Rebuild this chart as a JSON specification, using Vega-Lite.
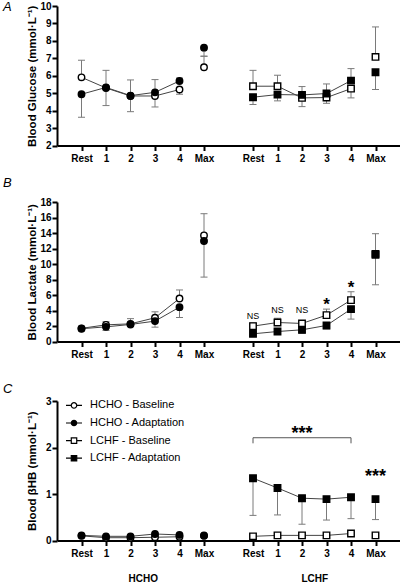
{
  "$schema": "https://vega.github.io/schema/vega-lite/v6.json",
  "padding": {"left": 3, "top": 1, "right": 0, "bottom": 0},
  "config": {
    "font": "Liberation Sans",
    "view": {"stroke": null},
    "axis": {"domainColor": "black", "domainWidth": 2, "tickColor": "black", "tickWidth": 2, "tickSize": 5, "labelFont": "Liberation Sans", "labelFontWeight": "bold", "labelFontSize": 10, "labelColor": "black", "grid": false, "titleFont": "Liberation Sans", "titleFontWeight": "bold", "titleFontSize": 11.5, "titleColor": "black", "labelOverlap": false},
    "axisX": {"labelPadding": 3, "labelAngle": 0},
    "axisY": {"labelPadding": 1, "minExtent": 17, "maxExtent": 17, "titlePadding": 3},
    "title": {"font": "Liberation Sans", "fontSize": 13, "fontStyle": "italic", "fontWeight": "normal", "anchor": "start", "frame": "group", "dx": -54, "baseline": "alphabetic", "color": "black"},
    "legend": {"orient": "none", "legendX": 8, "legendY": -4.6, "title": null, "symbolSize": 256, "symbolStrokeWidth": 1.2, "labelFont": "Liberation Sans", "labelFontSize": 11, "labelColor": "black", "labelOffset": 7, "rowPadding": 2.6, "padding": 0}
  },
  "datasets": {
    "glucose": [
      {"x": "HCHO Rest", "time": "Rest", "group": "HCHO - Baseline", "mean": 5.91, "err": 6.89},
      {"x": "HCHO 1", "time": "1", "group": "HCHO - Baseline", "mean": 5.30, "err": 6.31},
      {"x": "HCHO 2", "time": "2", "group": "HCHO - Baseline", "mean": 4.84, "err": 5.76},
      {"x": "HCHO 3", "time": "3", "group": "HCHO - Baseline", "mean": 4.84, "err": 4.21},
      {"x": "HCHO 4", "time": "4", "group": "HCHO - Baseline", "mean": 5.21, "err": 4.94},
      {"x": "HCHO Max", "time": "Max", "group": "HCHO - Baseline", "mean": 6.49, "err": 7.12},
      {"x": "HCHO Rest", "time": "Rest", "group": "HCHO - Adaptation", "mean": 4.94, "err": 3.62},
      {"x": "HCHO 1", "time": "1", "group": "HCHO - Adaptation", "mean": 5.33, "err": 4.29},
      {"x": "HCHO 2", "time": "2", "group": "HCHO - Adaptation", "mean": 4.86, "err": 3.94},
      {"x": "HCHO 3", "time": "3", "group": "HCHO - Adaptation", "mean": 5.05, "err": 5.78},
      {"x": "HCHO 4", "time": "4", "group": "HCHO - Adaptation", "mean": 5.70, "err": 5.87},
      {"x": "HCHO Max", "time": "Max", "group": "HCHO - Adaptation", "mean": 7.61, "err": 7.12},
      {"x": "LCHF Rest", "time": "Rest", "group": "LCHF - Baseline", "mean": 5.40, "err": 6.31},
      {"x": "LCHF 1", "time": "1", "group": "LCHF - Baseline", "mean": 5.40, "err": 6.03},
      {"x": "LCHF 2", "time": "2", "group": "LCHF - Baseline", "mean": 4.73, "err": 4.23},
      {"x": "LCHF 3", "time": "3", "group": "LCHF - Baseline", "mean": 4.75, "err": 4.42},
      {"x": "LCHF 4", "time": "4", "group": "LCHF - Baseline", "mean": 5.26, "err": 4.73},
      {"x": "LCHF Max", "time": "Max", "group": "LCHF - Baseline", "mean": 7.08, "err": 8.80},
      {"x": "LCHF Rest", "time": "Rest", "group": "LCHF - Adaptation", "mean": 4.77, "err": 4.35},
      {"x": "LCHF 1", "time": "1", "group": "LCHF - Adaptation", "mean": 4.92, "err": 4.56},
      {"x": "LCHF 2", "time": "2", "group": "LCHF - Adaptation", "mean": 4.90, "err": 5.38},
      {"x": "LCHF 3", "time": "3", "group": "LCHF - Adaptation", "mean": 4.98, "err": 5.53},
      {"x": "LCHF 4", "time": "4", "group": "LCHF - Adaptation", "mean": 5.72, "err": 6.41},
      {"x": "LCHF Max", "time": "Max", "group": "LCHF - Adaptation", "mean": 6.20, "err": 5.21}
    ],
    "lactate": [
      {"x": "HCHO Rest", "time": "Rest", "group": "HCHO - Baseline", "mean": 1.70, "err": 1.95},
      {"x": "HCHO 1", "time": "1", "group": "HCHO - Baseline", "mean": 2.15, "err": 2.55},
      {"x": "HCHO 2", "time": "2", "group": "HCHO - Baseline", "mean": 2.28, "err": 2.95},
      {"x": "HCHO 3", "time": "3", "group": "HCHO - Baseline", "mean": 3.06, "err": 3.83},
      {"x": "HCHO 4", "time": "4", "group": "HCHO - Baseline", "mean": 5.55, "err": 6.65},
      {"x": "HCHO Max", "time": "Max", "group": "HCHO - Baseline", "mean": 13.69, "err": 16.49},
      {"x": "HCHO Rest", "time": "Rest", "group": "HCHO - Adaptation", "mean": 1.65, "err": 1.40},
      {"x": "HCHO 1", "time": "1", "group": "HCHO - Adaptation", "mean": 1.89, "err": 1.42},
      {"x": "HCHO 2", "time": "2", "group": "HCHO - Adaptation", "mean": 2.20, "err": 1.95},
      {"x": "HCHO 3", "time": "3", "group": "HCHO - Adaptation", "mean": 2.63, "err": 1.85},
      {"x": "HCHO 4", "time": "4", "group": "HCHO - Adaptation", "mean": 4.43, "err": 3.10},
      {"x": "HCHO Max", "time": "Max", "group": "HCHO - Adaptation", "mean": 12.96, "err": 8.31},
      {"x": "LCHF Rest", "time": "Rest", "group": "LCHF - Baseline", "mean": 1.98, "err": 2.40},
      {"x": "LCHF 1", "time": "1", "group": "LCHF - Baseline", "mean": 2.45, "err": 3.00},
      {"x": "LCHF 2", "time": "2", "group": "LCHF - Baseline", "mean": 2.33, "err": 2.60},
      {"x": "LCHF 3", "time": "3", "group": "LCHF - Baseline", "mean": 3.40, "err": 4.18},
      {"x": "LCHF 4", "time": "4", "group": "LCHF - Baseline", "mean": 5.34, "err": 6.42},
      {"x": "LCHF Max", "time": "Max", "group": "LCHF - Baseline", "mean": 11.30, "err": 13.91},
      {"x": "LCHF Rest", "time": "Rest", "group": "LCHF - Adaptation", "mean": 0.99, "err": 0.70},
      {"x": "LCHF 1", "time": "1", "group": "LCHF - Adaptation", "mean": 1.29, "err": 1.00},
      {"x": "LCHF 2", "time": "2", "group": "LCHF - Adaptation", "mean": 1.51, "err": 1.05},
      {"x": "LCHF 3", "time": "3", "group": "LCHF - Adaptation", "mean": 2.07, "err": 1.64},
      {"x": "LCHF 4", "time": "4", "group": "LCHF - Adaptation", "mean": 4.18, "err": 2.89},
      {"x": "LCHF Max", "time": "Max", "group": "LCHF - Adaptation", "mean": 11.20, "err": 7.32}
    ],
    "bhb": [
      {"x": "HCHO Rest", "time": "Rest", "group": "HCHO - Baseline", "mean": 0.10, "err": null},
      {"x": "HCHO 1", "time": "1", "group": "HCHO - Baseline", "mean": 0.06, "err": null},
      {"x": "HCHO 2", "time": "2", "group": "HCHO - Baseline", "mean": 0.06, "err": null},
      {"x": "HCHO 3", "time": "3", "group": "HCHO - Baseline", "mean": 0.07, "err": null},
      {"x": "HCHO 4", "time": "4", "group": "HCHO - Baseline", "mean": 0.08, "err": null},
      {"x": "HCHO Max", "time": "Max", "group": "HCHO - Baseline", "mean": 0.10, "err": null},
      {"x": "HCHO Rest", "time": "Rest", "group": "HCHO - Adaptation", "mean": 0.11, "err": null},
      {"x": "HCHO 1", "time": "1", "group": "HCHO - Adaptation", "mean": 0.09, "err": null},
      {"x": "HCHO 2", "time": "2", "group": "HCHO - Adaptation", "mean": 0.09, "err": null},
      {"x": "HCHO 3", "time": "3", "group": "HCHO - Adaptation", "mean": 0.14, "err": null},
      {"x": "HCHO 4", "time": "4", "group": "HCHO - Adaptation", "mean": 0.12, "err": null},
      {"x": "HCHO Max", "time": "Max", "group": "HCHO - Adaptation", "mean": 0.11, "err": null},
      {"x": "LCHF Rest", "time": "Rest", "group": "LCHF - Baseline", "mean": 0.09, "err": null},
      {"x": "LCHF 1", "time": "1", "group": "LCHF - Baseline", "mean": 0.11, "err": null},
      {"x": "LCHF 2", "time": "2", "group": "LCHF - Baseline", "mean": 0.11, "err": null},
      {"x": "LCHF 3", "time": "3", "group": "LCHF - Baseline", "mean": 0.11, "err": null},
      {"x": "LCHF 4", "time": "4", "group": "LCHF - Baseline", "mean": 0.15, "err": null},
      {"x": "LCHF Max", "time": "Max", "group": "LCHF - Baseline", "mean": 0.11, "err": null},
      {"x": "LCHF Rest", "time": "Rest", "group": "LCHF - Adaptation", "mean": 1.34, "err": 0.54},
      {"x": "LCHF 1", "time": "1", "group": "LCHF - Adaptation", "mean": 1.13, "err": 0.55},
      {"x": "LCHF 2", "time": "2", "group": "LCHF - Adaptation", "mean": 0.91, "err": 0.35},
      {"x": "LCHF 3", "time": "3", "group": "LCHF - Adaptation", "mean": 0.89, "err": 0.44},
      {"x": "LCHF 4", "time": "4", "group": "LCHF - Adaptation", "mean": 0.93, "err": 0.47},
      {"x": "LCHF Max", "time": "Max", "group": "LCHF - Adaptation", "mean": 0.89, "err": 0.45}
    ],
    "lactate_ann": [
      {"x": "LCHF Rest", "y": 2.95, "label": "NS"},
      {"x": "LCHF 1", "y": 3.72, "label": "NS"},
      {"x": "LCHF 2", "y": 3.72, "label": "NS"},
      {"x": "LCHF 3", "y": 4.04, "label": "*"},
      {"x": "LCHF 4", "y": 6.32, "label": "*"}
    ],
    "bhb_ann": [
      {"x": "LCHF 2", "y": 2.19, "label": "***"},
      {"x": "LCHF Max", "y": 1.26, "label": "***"}
    ],
    "bracket": [
      {"x": "LCHF Rest", "x2": "LCHF 4", "y": 2.21, "y2": 2.21},
      {"x": "LCHF Rest", "x2": "LCHF Rest", "y": 2.21, "y2": 2.09},
      {"x": "LCHF 4", "x2": "LCHF 4", "y": 2.21, "y2": 2.09}
    ],
    "diets": [
      {"diet": "HCHO"},
      {"diet": "LCHF"}
    ]
  },
  "spacing": 13,
  "resolve": {"scale": {"fill": "independent", "shape": "independent"}},
  "vconcat": [
    {
      "width": 343, "height": 139.5,
      "title": {"text": "A", "offset": -13},
      "data": {"name": "glucose"},
      "encoding": {
        "x": {"field": "x", "type": "nominal", "scale": {"type": "point", "padding": 0, "domain": ["p0", "HCHO Rest", "HCHO 1", "HCHO 2", "HCHO 3", "HCHO 4", "HCHO Max", "p1", "LCHF Rest", "LCHF 1", "LCHF 2", "LCHF 3", "LCHF 4", "LCHF Max", "p2"]}, "axis": {"values": ["HCHO Rest", "HCHO 1", "HCHO 2", "HCHO 3", "HCHO 4", "HCHO Max", "LCHF Rest", "LCHF 1", "LCHF 2", "LCHF 3", "LCHF 4", "LCHF Max"], "labelExpr": "split(datum.value, ' ')[1]", "title": null}}
      },
      "layer": [
        {"transform": [{"filter": {"field": "err", "valid": true}}], "mark": {"type": "rule", "color": "#7a7a7a", "strokeWidth": 1}, "encoding": {"y": {"field": "mean", "type": "quantitative", "title": "Blood Glucose (mmol·L⁻¹)", "scale": {"domain": [2, 10], "nice": false, "zero": false}, "axis": {"values": [2, 3, 4, 5, 6, 7, 8, 9, 10]}}, "y2": {"field": "err"}}},
        {"transform": [{"filter": {"field": "err", "valid": true}}], "mark": {"type": "tick", "color": "#7a7a7a", "thickness": 1, "size": 7, "opacity": 1}, "encoding": {"y": {"field": "err", "type": "quantitative", "title": "Blood Glucose (mmol·L⁻¹)", "axis": {"values": [2, 3, 4, 5, 6, 7, 8, 9, 10]}}}},
        {"transform": [{"filter": {"field": "time", "oneOf": ["Rest", "1", "2", "3", "4"]}}], "mark": {"type": "line", "color": "#444444", "strokeWidth": 1}, "encoding": {"y": {"field": "mean", "type": "quantitative", "title": "Blood Glucose (mmol·L⁻¹)", "axis": {"values": [2, 3, 4, 5, 6, 7, 8, 9, 10]}}, "detail": {"field": "group"}}},
        {"mark": {"type": "point", "stroke": "black", "strokeWidth": 1.4, "size": 42, "opacity": 1, "fillOpacity": 1}, "encoding": {"y": {"field": "mean", "type": "quantitative", "title": "Blood Glucose (mmol·L⁻¹)", "axis": {"values": [2, 3, 4, 5, 6, 7, 8, 9, 10]}}, "shape": {"field": "group", "type": "nominal", "scale": {"domain": ["HCHO - Baseline", "HCHO - Adaptation", "LCHF - Baseline", "LCHF - Adaptation"], "range": ["circle", "circle", "square", "square"]}, "legend": null}, "fill": {"field": "group", "type": "nominal", "scale": {"domain": ["HCHO - Baseline", "HCHO - Adaptation", "LCHF - Baseline", "LCHF - Adaptation"], "range": ["white", "black", "white", "black"]}, "legend": null}}}
      ]
    },
    {
      "spacing": 23,
      "resolve": {"scale": {"fill": "independent", "shape": "independent"}},
      "vconcat": [
        {
          "width": 343, "height": 139.5,
          "title": {"text": "B", "offset": 7},
          "data": {"name": "lactate"},
          "encoding": {
            "x": {"field": "x", "type": "nominal", "scale": {"type": "point", "padding": 0, "domain": ["p0", "HCHO Rest", "HCHO 1", "HCHO 2", "HCHO 3", "HCHO 4", "HCHO Max", "p1", "LCHF Rest", "LCHF 1", "LCHF 2", "LCHF 3", "LCHF 4", "LCHF Max", "p2"]}, "axis": {"values": ["HCHO Rest", "HCHO 1", "HCHO 2", "HCHO 3", "HCHO 4", "HCHO Max", "LCHF Rest", "LCHF 1", "LCHF 2", "LCHF 3", "LCHF 4", "LCHF Max"], "labelExpr": "split(datum.value, ' ')[1]", "title": null}}
          },
          "layer": [
            {"transform": [{"filter": {"field": "err", "valid": true}}], "mark": {"type": "rule", "color": "#7a7a7a", "strokeWidth": 1}, "encoding": {"y": {"field": "mean", "type": "quantitative", "title": "Blood Lactate (mmol·L⁻¹)", "scale": {"domain": [0, 18], "nice": false}, "axis": {"values": [0, 2, 4, 6, 8, 10, 12, 14, 16, 18]}}, "y2": {"field": "err"}}},
            {"transform": [{"filter": {"field": "err", "valid": true}}], "mark": {"type": "tick", "color": "#7a7a7a", "thickness": 1, "size": 7, "opacity": 1}, "encoding": {"y": {"field": "err", "type": "quantitative", "title": "Blood Lactate (mmol·L⁻¹)", "axis": {"values": [0, 2, 4, 6, 8, 10, 12, 14, 16, 18]}}}},
            {"transform": [{"filter": {"field": "time", "oneOf": ["Rest", "1", "2", "3", "4"]}}], "mark": {"type": "line", "color": "#444444", "strokeWidth": 1}, "encoding": {"y": {"field": "mean", "type": "quantitative", "title": "Blood Lactate (mmol·L⁻¹)", "axis": {"values": [0, 2, 4, 6, 8, 10, 12, 14, 16, 18]}}, "detail": {"field": "group"}}},
            {"mark": {"type": "point", "stroke": "black", "strokeWidth": 1.4, "size": 42, "opacity": 1, "fillOpacity": 1}, "encoding": {"y": {"field": "mean", "type": "quantitative", "title": "Blood Lactate (mmol·L⁻¹)", "axis": {"values": [0, 2, 4, 6, 8, 10, 12, 14, 16, 18]}}, "shape": {"field": "group", "type": "nominal", "scale": {"domain": ["HCHO - Baseline", "HCHO - Adaptation", "LCHF - Baseline", "LCHF - Adaptation"], "range": ["circle", "circle", "square", "square"]}, "legend": null}, "fill": {"field": "group", "type": "nominal", "scale": {"domain": ["HCHO - Baseline", "HCHO - Adaptation", "LCHF - Baseline", "LCHF - Adaptation"], "range": ["white", "black", "white", "black"]}, "legend": null}}},
            {"data": {"name": "lactate_ann"}, "transform": [{"filter": {"field": "label", "equal": "NS"}}], "mark": {"type": "text", "fontSize": 9, "font": "Liberation Sans", "baseline": "alphabetic", "align": "center", "fill": "black"}, "encoding": {"y": {"field": "y", "type": "quantitative", "title": "Blood Lactate (mmol·L⁻¹)", "axis": {"values": [0, 2, 4, 6, 8, 10, 12, 14, 16, 18]}}, "text": {"field": "label"}}},
            {"data": {"name": "lactate_ann"}, "transform": [{"filter": {"field": "label", "equal": "*"}}], "mark": {"type": "text", "fontSize": 17, "fontWeight": "bold", "font": "Liberation Sans", "baseline": "alphabetic", "align": "center", "fill": "black"}, "encoding": {"y": {"field": "y", "type": "quantitative", "title": "Blood Lactate (mmol·L⁻¹)", "axis": {"values": [0, 2, 4, 6, 8, 10, 12, 14, 16, 18]}}, "text": {"field": "label"}}}
          ]
        },
        {
          "width": 343, "height": 139.5,
          "title": {"text": "C", "offset": 0},
          "resolve": {"scale": {"x": "independent"}, "axis": {"x": "independent"}},
          "layer": [
            {
              "data": {"name": "bhb"},
              "encoding": {
                "x": {"field": "x", "type": "nominal", "scale": {"type": "point", "padding": 0, "domain": ["p0", "HCHO Rest", "HCHO 1", "HCHO 2", "HCHO 3", "HCHO 4", "HCHO Max", "p1", "LCHF Rest", "LCHF 1", "LCHF 2", "LCHF 3", "LCHF 4", "LCHF Max", "p2"]}, "axis": {"values": ["HCHO Rest", "HCHO 1", "HCHO 2", "HCHO 3", "HCHO 4", "HCHO Max", "LCHF Rest", "LCHF 1", "LCHF 2", "LCHF 3", "LCHF 4", "LCHF Max"], "labelExpr": "split(datum.value, ' ')[1]", "title": null, "orient": "bottom"}}
              },
              "layer": [
                {"transform": [{"filter": {"field": "err", "valid": true}}], "mark": {"type": "rule", "color": "#7a7a7a", "strokeWidth": 1}, "encoding": {"y": {"field": "mean", "type": "quantitative", "title": "Blood βHB (mmol·L⁻¹)", "scale": {"domain": [0, 3], "nice": false}, "axis": {"values": [0, 1, 2, 3]}}, "y2": {"field": "err"}}},
                {"transform": [{"filter": {"field": "err", "valid": true}}], "mark": {"type": "tick", "color": "#7a7a7a", "thickness": 1, "size": 7, "opacity": 1}, "encoding": {"y": {"field": "err", "type": "quantitative", "title": "Blood βHB (mmol·L⁻¹)", "axis": {"values": [0, 1, 2, 3]}}}},
                {"transform": [{"filter": {"field": "time", "oneOf": ["Rest", "1", "2", "3", "4"]}}], "mark": {"type": "line", "color": "#444444", "strokeWidth": 1}, "encoding": {"y": {"field": "mean", "type": "quantitative", "title": "Blood βHB (mmol·L⁻¹)", "axis": {"values": [0, 1, 2, 3]}}, "detail": {"field": "group"}}},
                {"transform": [{"filter": {"field": "group", "oneOf": ["HCHO - Baseline", "HCHO - Adaptation"]}}], "mark": {"type": "point", "shape": "circle", "stroke": "black", "strokeWidth": 1.4, "size": 42, "opacity": 1, "fillOpacity": 1}, "encoding": {"y": {"field": "mean", "type": "quantitative", "title": "Blood βHB (mmol·L⁻¹)", "axis": {"values": [0, 1, 2, 3]}}, "fill": {"field": "group", "type": "nominal", "scale": {"domain": ["HCHO - Baseline", "HCHO - Adaptation", "LCHF - Baseline", "LCHF - Adaptation"], "range": ["white", "black", "white", "black"]}}}},
                {"transform": [{"filter": {"field": "group", "oneOf": ["LCHF - Baseline", "LCHF - Adaptation"]}}], "mark": {"type": "point", "shape": "square", "stroke": "black", "strokeWidth": 1.4, "size": 42, "opacity": 1, "fillOpacity": 1}, "encoding": {"y": {"field": "mean", "type": "quantitative", "title": "Blood βHB (mmol·L⁻¹)", "axis": {"values": [0, 1, 2, 3]}}, "fill": {"field": "group", "type": "nominal", "scale": {"domain": ["HCHO - Baseline", "HCHO - Adaptation", "LCHF - Baseline", "LCHF - Adaptation"], "range": ["white", "black", "white", "black"]}}}},
                {"transform": [{"filter": "false"}], "mark": {"type": "point", "stroke": "black", "strokeWidth": 1.2, "opacity": 1, "fillOpacity": 1}, "encoding": {"y": {"field": "mean", "type": "quantitative", "title": "Blood βHB (mmol·L⁻¹)", "axis": {"values": [0, 1, 2, 3]}}, "shape": {"field": "group", "type": "nominal", "scale": {"domain": ["HCHO - Baseline", "HCHO - Adaptation", "LCHF - Baseline", "LCHF - Adaptation"], "range": ["M-1,0H-0.34M0.34,0H1M-0.34,0A0.34,0.34,0,1,0,0.34,0A0.34,0.34,0,1,0,-0.34,0Z", "M-1,0H-0.34M0.34,0H1M-0.34,0A0.34,0.34,0,1,0,0.34,0A0.34,0.34,0,1,0,-0.34,0Z", "M-1,0H-0.34M0.34,0H1M-0.34,-0.34H0.34V0.34H-0.34Z", "M-1,0H-0.34M0.34,0H1M-0.34,-0.34H0.34V0.34H-0.34Z"]}}, "fill": {"field": "group", "type": "nominal", "scale": {"domain": ["HCHO - Baseline", "HCHO - Adaptation", "LCHF - Baseline", "LCHF - Adaptation"], "range": ["white", "black", "white", "black"]}}}},
                {"data": {"name": "bracket"}, "mark": {"type": "rule", "color": "#555555", "strokeWidth": 1}, "encoding": {"x2": {"field": "x2"}, "y": {"field": "y", "type": "quantitative", "title": "Blood βHB (mmol·L⁻¹)", "axis": {"values": [0, 1, 2, 3]}}, "y2": {"field": "y2"}}},
                {"data": {"name": "bhb_ann"}, "mark": {"type": "text", "fontSize": 18, "fontWeight": "bold", "font": "Liberation Sans", "baseline": "alphabetic", "align": "center", "fill": "black"}, "encoding": {"y": {"field": "y", "type": "quantitative", "title": "Blood βHB (mmol·L⁻¹)", "axis": {"values": [0, 1, 2, 3]}}, "text": {"field": "label"}}}
              ]
            },
            {
              "data": {"name": "diets"},
              "mark": {"type": "point", "opacity": 0},
              "encoding": {
                "x": {"field": "diet", "type": "nominal", "scale": {"type": "point", "padding": 0.5}, "axis": {"orient": "bottom", "domain": false, "ticks": false, "labelPadding": 33, "title": null, "labelFontSize": 10}}
              }
            }
          ]
        }
      ]
    }
  ]
}
